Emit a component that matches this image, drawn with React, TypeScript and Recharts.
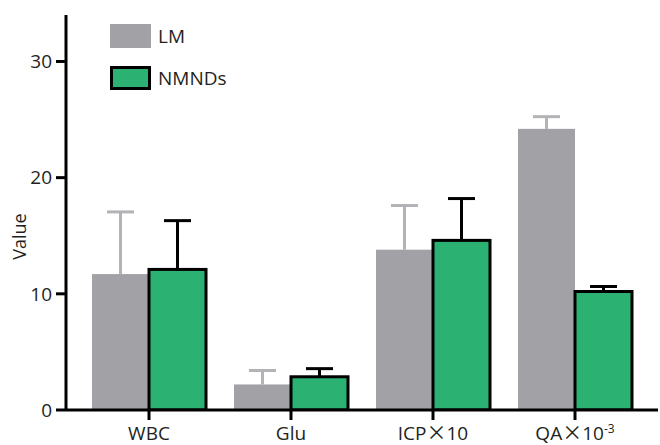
import React from 'react';
import { BarChart, Bar, XAxis, YAxis } from 'recharts';

const categories = ['WBC', 'Glu', 'ICP×10', 'QA×10^-3'];
const lmValues = [11.7, 2.2, 13.8, 24.2];
const lmErrors = [5.35, 1.2, 3.8, 1.05];
const nmndsValues = [12.1, 2.86, 14.6, 10.2];
const nmndsErrors = [4.2, 0.7, 3.6, 0.43];
const yTicks = [0, 10, 20, 30];

const data = categories.map((c, i) => ({
  name: c,
  LM: lmValues[i],
  lmErr: lmErrors[i],
  NMNDs: nmndsValues[i],
  nmErr: nmndsErrors[i],
}));

const FONT = '"Open Sans", sans-serif';
const TEXT = '#231f20';
const GRAY = '#a2a2a6';
const WHISKER = '#b3b3b7';
const GREEN = '#2bb273';
const CAP_HALF = 13.5;

const makeShape = (errKey: string, fill: string, stroke: string | null, whisker: string) => (props: any) => {
  const { x, y, width, height, payload, value } = props;
  const v = Array.isArray(value) ? value[1] - value[0] : value;
  const perUnit = v ? height / v : 0;
  const errPx = payload[errKey] * perUnit;
  const cx = x + width / 2;
  const top = y - errPx;
  return (
    <g>
      <line x1={cx} y1={y} x2={cx} y2={top} stroke={whisker} strokeWidth={3} />
      <line x1={cx - CAP_HALF} y1={top} x2={cx + CAP_HALF} y2={top} stroke={whisker} strokeWidth={3} />
      <rect x={x} y={y} width={width} height={height} fill={fill} stroke={stroke || 'none'} strokeWidth={stroke ? 3 : 0} />
    </g>
  );
};

const LMShape = makeShape('lmErr', GRAY, null, WHISKER);
const NMShape = makeShape('nmErr', GREEN, '#000', '#000');

const XTick = (props: any) => {
  const { x, y, payload } = props;
  const [main, sup] = String(payload.value).split('^');
  const parts = main.split('×');
  return (
    <text x={x} y={y} dy={14} textAnchor="middle" fontFamily={FONT} fontSize={19} fill={TEXT}>
      <tspan>{parts[0]}</tspan>
      {parts.length > 1 ? (
        <>
          <tspan fontFamily='"Noto Sans CJK SC", sans-serif' fontSize={20}>×</tspan>
          <tspan>{parts[1]}</tspan>
        </>
      ) : null}
      {sup ? (
        <tspan fontSize={12} dy={-7}>{sup}</tspan>
      ) : null}
    </text>
  );
};

const YLabel = (props: any) => {
  const { viewBox } = props;
  const cx = viewBox.x + 19;
  const cy = viewBox.y + viewBox.height / 2 + 24;
  return (
    <text x={cx} y={cy} transform={`rotate(-90 ${cx} ${cy})`} textAnchor="middle" dominantBaseline="central" fontFamily={FONT} fontSize={18} fill={TEXT}>
      Value
    </text>
  );
};

const LegendBox = () => (
  <div style={{ position: 'absolute', left: 110, top: 24, fontFamily: FONT, fontSize: 19, color: TEXT, lineHeight: '24px' }}>
    <div style={{ display: 'flex', alignItems: 'center', height: 24 }}>
      <div style={{ width: 41, height: 24, background: GRAY }} />
      <span style={{ marginLeft: 7 }}>LM</span>
    </div>
    <div style={{ display: 'flex', alignItems: 'center', height: 24, marginTop: 18 }}>
      <div style={{ width: 41, height: 24, background: GREEN, border: '3px solid #000', boxSizing: 'border-box' }} />
      <span style={{ marginLeft: 7 }}>NMNDs</span>
    </div>
  </div>
);

export default function App() {
  return (
    <div style={{ position: 'absolute', left: 0, top: 0, width: 660, height: 445, background: '#fff' }}>
      <BarChart
        width={660}
        height={445}
        data={data}
        margin={{ top: 15, right: 2, bottom: 0, left: 0 }}
        barCategoryGap={14}
        barGap={0}
      >
        <XAxis
          dataKey="name"
          height={35}
          padding={{ left: 12, right: 12 }}
          axisLine={{ stroke: '#000', strokeWidth: 3 }}
          tickLine={{ stroke: '#000', strokeWidth: 3 }}
          tickSize={10}
          tickMargin={6}
          tick={<XTick />}
          interval={0}
        />
        <YAxis
          width={66}
          domain={[0, 34]}
          ticks={yTicks}
          allowDataOverflow
          axisLine={{ stroke: '#000', strokeWidth: 3 }}
          tickLine={{ stroke: '#000', strokeWidth: 3 }}
          tickSize={10}
          tickMargin={4}
          tick={{ fontFamily: FONT, fontSize: 19, fill: TEXT }}
          label={<YLabel />}
        />
        <Bar dataKey="LM" fill={GRAY} shape={LMShape} isAnimationActive={false} />
        <Bar dataKey="NMNDs" fill={GREEN} shape={NMShape} isAnimationActive={false} />
      </BarChart>
      <LegendBox />
    </div>
  );
}
